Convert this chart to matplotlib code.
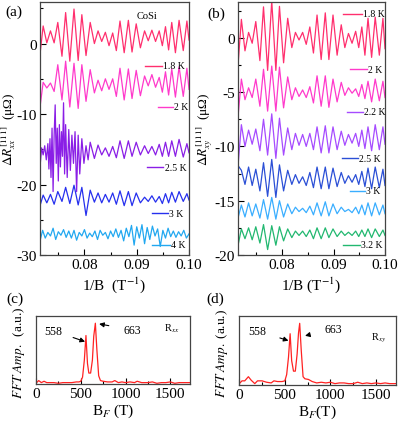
import matplotlib
matplotlib.use('Agg')
import matplotlib.pyplot as plt
from matplotlib.ticker import MultipleLocator

plt.rcParams['font.family'] = ['Liberation Serif', 'DejaVu Serif']
plt.rcParams['mathtext.fontset'] = 'stix'
plt.rcParams['axes.unicode_minus'] = False

# extrema positions in 1/B (T^-1), shared by the traces in (a) and (b)
inv_b = [0.0715, 0.0721, 0.0728, 0.0735, 0.0742, 0.0749, 0.0757, 0.0764, 0.0772, 0.0780,
         0.0788, 0.0795, 0.0803, 0.0811, 0.0819, 0.0826, 0.0833, 0.0840, 0.0847, 0.0854,
         0.0861, 0.0868, 0.0876, 0.0884, 0.0891, 0.0899, 0.0907, 0.0915, 0.0922, 0.0929,
         0.0936, 0.0943, 0.0949, 0.0955, 0.0961, 0.0967, 0.0974, 0.0981, 0.0989, 0.0996,
         0.1000]

# (a) delta R_xx, uOhm
rxx_18 = [-1.5, 2.5, 0.1, 1.8, 0.1, 3.0, -1.8, 4.4, -2.5, 4.9,
          -2.4, 4.1, -1.7, 3.0, 0.0, 1.8, 0.3, 1.6, -0.3, 1.5,
          -1.0, 3.2, -1.3, 3.3, -1.2, 2.8, -0.6, 1.8, 0.4, 1.9,
          0.3, 1.8, -0.3, 2.4, -0.9, 3.0, -1.3, 3.3, -1.0, 3.2, 0.5]
rxx_20 = [-9.0, -5.5, -6.3, -5.6, -6.8, -3.0, -8.0, -2.5, -9.0, -2.8,
          -9.2, -3.0, -8.2, -3.7, -7.0, -5.2, -6.7, -5.0, -6.5, -5.0,
          -7.5, -3.5, -8.0, -3.6, -7.8, -3.8, -7.4, -4.6, -6.0, -4.4,
          -6.2, -4.8, -6.9, -4.0, -7.3, -3.6, -7.6, -3.3, -7.5, -3.5, -6.5]
rxx_30 = [-23.0, -21.5, -22.6, -21.4, -22.8, -21.0, -22.4, -20.4, -22.7, -20.1,
          -22.9, -20.4, -24.4, -20.8, -22.5, -21.2, -22.6, -21.4, -22.5, -21.2,
          -22.8, -20.9, -23.0, -21.0, -23.0, -21.2, -22.6, -21.8, -22.4, -21.6,
          -22.5, -21.7, -22.7, -21.3, -22.6, -21.1, -22.5, -21.0, -22.4, -21.3, -22.2]

# 2.5 K trace is spiky at high field, so it has its own x points
inv_b_25 = [0.0715, 0.0718, 0.0721, 0.0724, 0.0727, 0.0730, 0.0732, 0.0734, 0.0736, 0.0738,
            0.0740, 0.0742, 0.0744, 0.0746, 0.0748, 0.0750, 0.0752, 0.0754, 0.0756, 0.0758,
            0.0760, 0.0762, 0.0764, 0.0767, 0.0770, 0.0773, 0.0776, 0.0779, 0.0782, 0.0785,
            0.0788, 0.0791, 0.0795, 0.0799, 0.0803, 0.0807, 0.0811, 0.0819, 0.0826, 0.0833,
            0.0840, 0.0847, 0.0854, 0.0861, 0.0868, 0.0876, 0.0884, 0.0891, 0.0899, 0.0907,
            0.0915, 0.0922, 0.0929, 0.0936, 0.0943, 0.0949, 0.0955, 0.0961, 0.0967, 0.0974,
            0.0981, 0.0989, 0.0996, 0.1000]
rxx_25 = [-17.5, -14.8, -15.8, -14.5, -16.5, -14.2, -17.8, -13.5, -19.0, -12.0,
          -21.0, -13.0, -8.7, -17.0, -12.0, -19.5, -11.5, -17.5, -12.5, -16.0,
          -8.4, -18.5, -11.5, -19.0, -12.2, -18.0, -13.0, -17.0, -12.5, -21.0,
          -13.0, -18.5, -13.5, -17.0, -14.5, -16.5, -14.0, -16.3, -14.4, -15.8,
          -14.8, -16.0, -14.6, -16.2, -13.8, -16.3, -13.8, -16.0, -14.0, -15.8,
          -14.5, -15.6, -14.6, -15.8, -14.3, -16.0, -14.0, -16.0, -13.8, -16.0,
          -13.6, -16.1, -14.2, -15.5]

# 4 K trace is mostly noise
inv_b_40 = [0.0715, 0.0720, 0.0725, 0.0730, 0.0735, 0.0740, 0.0745, 0.0750, 0.0755, 0.0760,
            0.0765, 0.0770, 0.0775, 0.0780, 0.0785, 0.0790, 0.0795, 0.0800, 0.0805, 0.0810,
            0.0815, 0.0820, 0.0825, 0.0830, 0.0835, 0.0840, 0.0845, 0.0850, 0.0855, 0.0860,
            0.0865, 0.0870, 0.0875, 0.0880, 0.0885, 0.0890, 0.0895, 0.0900, 0.0905, 0.0910,
            0.0915, 0.0920, 0.0925, 0.0930, 0.0935, 0.0940, 0.0945, 0.0950, 0.0955, 0.0960,
            0.0965, 0.0970, 0.0975, 0.0980, 0.0985, 0.0990, 0.0995, 0.1000]
rxx_40 = [-28.0, -26.5, -27.6, -26.8, -27.3, -26.2, -27.8, -26.7, -27.2, -26.4,
          -27.5, -26.6, -27.6, -26.5, -27.9, -26.8, -27.3, -26.4, -27.6, -26.9,
          -27.4, -26.6, -27.8, -26.5, -27.2, -26.8, -27.7, -26.6, -27.4, -26.3,
          -27.5, -26.5, -28.0, -26.2, -27.4, -25.8, -28.6, -26.0, -27.6, -25.7,
          -28.4, -26.1, -27.8, -25.9, -27.3, -26.3, -28.8, -26.5, -27.6, -26.2,
          -27.4, -26.6, -27.5, -26.7, -27.3, -26.5, -27.6, -27.0]

# (b) delta R_xy, uOhm
rxy_18 = [-2.2, 1.7, -1.2, 0.5, -0.5, 1.5, -2.1, 2.85, -3.0, 3.4,
          -3.0, 2.9, -2.3, 1.8, -0.9, 0.5, -0.2, 0.5, -0.6, 1.0,
          -1.4, 2.1, -2.0, 2.3, -2.0, 2.1, -1.6, 1.2, -0.9, 0.4,
          -0.5, 0.6, -0.9, 1.0, -1.6, 1.8, -1.8, 1.9, -1.6, 1.8, -1.0]
rxy_20 = [-7.0, -3.8, -5.7, -4.6, -5.5, -3.8, -6.3, -2.9, -6.75, -2.6,
          -6.75, -2.7, -6.45, -3.6, -5.7, -4.6, -5.4, -4.8, -5.5, -4.5,
          -6.0, -3.5, -6.3, -3.5, -6.4, -3.8, -5.9, -4.1, -5.3, -4.6,
          -5.1, -4.7, -5.4, -4.3, -5.6, -4.0, -5.9, -3.8, -5.8, -4.0, -5.5]
rxy_22 = [-11.5, -8.0, -10.0, -8.5, -9.8, -8.4, -10.4, -7.5, -10.8, -7.0,
          -11.1, -7.4, -10.8, -8.3, -10.3, -8.8, -9.9, -8.9, -10.0, -8.8,
          -10.3, -8.2, -10.6, -8.1, -10.6, -8.2, -10.3, -8.6, -9.9, -8.9,
          -9.7, -8.8, -10.0, -8.5, -10.2, -8.2, -10.4, -8.0, -10.3, -8.2, -9.8]
rxy_25 = [-11.8, -12.2, -13.5, -11.9, -13.6, -12.1, -14.1, -11.5, -14.6, -11.2,
          -14.7, -11.7, -14.1, -12.2, -13.5, -12.6, -13.4, -12.8, -13.6, -12.4,
          -13.8, -11.9, -13.9, -11.9, -13.9, -12.0, -13.7, -12.4, -13.4, -12.7,
          -13.3, -12.6, -13.5, -12.3, -13.7, -12.0, -13.9, -11.9, -13.8, -12.1, -13.6]
rxy_30 = [-16.5, -15.4, -16.5, -15.2, -16.4, -15.3, -16.6, -14.9, -16.7, -14.7,
          -16.7, -15.0, -16.5, -15.3, -16.2, -15.6, -16.0, -15.7, -16.1, -15.5,
          -16.3, -15.2, -16.4, -15.1, -16.4, -15.3, -16.2, -15.6, -16.0, -15.8,
          -16.1, -15.6, -16.2, -15.4, -16.3, -15.2, -16.4, -15.2, -16.3, -15.4, -16.2]
rxy_32 = [-19.0, -17.6, -18.5, -17.5, -18.6, -17.4, -18.9, -17.2, -19.5, -17.3,
          -19.1, -17.4, -18.7, -17.6, -18.4, -17.8, -18.2, -17.8, -18.3, -17.7,
          -18.5, -17.5, -18.5, -17.5, -18.4, -17.6, -18.3, -17.8, -18.2, -17.9,
          -18.2, -17.8, -18.3, -17.7, -18.3, -17.6, -18.4, -17.6, -18.3, -17.7, -18.2]

# FFT spectra, frequency in T, amplitude normalised
bf_xx = [0, 30, 60, 90, 120, 150, 200, 250, 300, 350, 400, 450, 480, 500, 520, 540,
         558, 575, 590, 610, 630, 645, 663, 680, 700, 720, 750, 800, 850, 880, 920,
         960, 1000, 1050, 1100, 1130, 1180, 1250, 1300, 1350, 1400, 1450, 1500, 1550,
         1600, 1650, 1720]
amp_xx = [0.01, 0.05, 0.02, 0.04, 0.02, 0.02, 0.02, 0.01, 0.02, 0.02, 0.02, 0.03, 0.03,
          0.04, 0.10, 0.35, 0.71, 0.30, 0.16, 0.16, 0.35, 0.70, 0.89, 0.50, 0.12, 0.05,
          0.04, 0.03, 0.03, 0.05, 0.02, 0.03, 0.02, 0.03, 0.02, 0.04, 0.02, 0.02, 0.03,
          0.01, 0.02, 0.02, 0.03, 0.01, 0.02, 0.02, 0.02]
bf_xy = [0, 30, 60, 100, 130, 170, 200, 250, 300, 350, 380, 420, 470, 500, 520, 540,
         558, 575, 595, 615, 635, 650, 663, 680, 700, 720, 760, 800, 850, 900, 950,
         1000, 1050, 1100, 1150, 1200, 1250, 1300, 1350, 1400, 1450, 1500, 1550, 1600,
         1650, 1720]
amp_xy = [0.02, 0.06, 0.06, 0.12, 0.07, 0.02, 0.06, 0.06, 0.04, 0.03, 0.06, 0.05, 0.05,
          0.06, 0.15, 0.40, 0.74, 0.35, 0.20, 0.20, 0.45, 0.75, 0.89, 0.50, 0.12, 0.09,
          0.08, 0.05, 0.03, 0.04, 0.03, 0.04, 0.02, 0.03, 0.03, 0.02, 0.02, 0.04, 0.02,
          0.03, 0.02, 0.03, 0.02, 0.03, 0.02, 0.02]

c18 = '#ff2f6e'
c20 = '#ff3acb'
c22 = '#a64bff'
c25a = '#8a1ee6'
c25b = '#2b4fd6'
c30a = '#2630ee'
c30b = '#3aaeff'
c40 = '#22a8f0'
c32 = '#22b870'
red = '#ff2222'

fig = plt.figure(figsize=(3.99, 4.27), dpi=100)


def style(ax):
    ax.tick_params(which='both', direction='in', labelsize=11, width=0.8, pad=2.5)
    ax.tick_params(which='major', length=4)
    ax.tick_params(which='minor', length=2.5)
    for s in ax.spines.values():
        s.set_linewidth(0.9)
        s.set_color('#444444')


def tag(ax, x0, x1, y, text, color):
    ax.plot([x0, x1], [y, y], color=color, lw=1, transform=ax.transAxes, clip_on=False)
    ax.text(x1 + 0.008, y, text, transform=ax.transAxes, fontsize=7,
            va='center', ha='left')


# ---- (a)
ax1 = fig.add_axes([0.1003, 0.4005, 0.3734, 0.5925])
ax1.plot(inv_b, rxx_18, color=c18, lw=0.9)
ax1.plot(inv_b, rxx_20, color=c20, lw=0.9)
ax1.plot(inv_b_25, rxx_25, color=c25a, lw=0.9)
ax1.plot(inv_b, rxx_30, color=c30a, lw=0.9)
ax1.plot(inv_b_40, rxx_40, color=c40, lw=0.9)
ax1.set_xlim(0.0715, 0.1)
ax1.set_ylim(-30, 5.9)
ax1.xaxis.set_minor_locator(MultipleLocator(0.005))
ax1.yaxis.set_major_locator(MultipleLocator(10))
ax1.yaxis.set_minor_locator(MultipleLocator(5))
ax1.set_xticks([0.08, 0.09, 0.10])
ax1.set_xticklabels(['0.08', '0.09', '0.10'])
style(ax1)
ax1.set_xlabel(r'1/B  (T$^{-1}$)', fontsize=11, labelpad=2)
ax1.set_ylabel(r'$\Delta R^{[111]}_{xx}$  (μΩ)', fontsize=9.5)
ax1.yaxis.set_label_coords(-0.148, 0.5)
ax1.text(0.718, 0.945, 'CoSi', transform=ax1.transAxes, fontsize=7.5, ha='center', va='center')
tag(ax1, 0.705, 0.819, 0.747, '1.8 K', c18)
tag(ax1, 0.790, 0.890, 0.586, '2 K', c20)
tag(ax1, 0.716, 0.828, 0.347, '2.5 K', c25a)
tag(ax1, 0.750, 0.861, 0.165, '3 K', c30a)
tag(ax1, 0.750, 0.872, 0.040, '4 K', c40)

# ---- (b)
ax2 = fig.add_axes([0.5972, 0.4005, 0.3677, 0.5925])
ax2.plot(inv_b, rxy_18, color=c18, lw=0.9)
ax2.plot(inv_b, rxy_20, color=c20, lw=0.9)
ax2.plot(inv_b, rxy_22, color=c22, lw=0.9)
ax2.plot(inv_b, rxy_25, color=c25b, lw=0.9)
ax2.plot(inv_b, rxy_30, color=c30b, lw=0.9)
ax2.plot(inv_b, rxy_32, color=c32, lw=0.9)
ax2.set_xlim(0.0715, 0.1)
ax2.set_ylim(-20, 3.3)
ax2.xaxis.set_minor_locator(MultipleLocator(0.005))
ax2.yaxis.set_major_locator(MultipleLocator(5))
ax2.yaxis.set_minor_locator(MultipleLocator(2.5))
ax2.set_xticks([0.08, 0.09, 0.10])
ax2.set_xticklabels(['0.08', '0.09', '0.10'])
style(ax2)
ax2.set_xlabel(r'1/B (T$^{-1}$)', fontsize=11, labelpad=2)
ax2.set_ylabel(r'$\Delta R^{[111]}_{xy}$  (μΩ)', fontsize=9.5)
ax2.yaxis.set_label_coords(-0.16, 0.5)
tag(ax2, 0.716, 0.841, 0.953, '1.8 K', c18)
tag(ax2, 0.761, 0.875, 0.735, '2 K', c20)
tag(ax2, 0.739, 0.852, 0.566, '2.2 K', c22)
tag(ax2, 0.705, 0.818, 0.382, '2.5 K', c25b)
tag(ax2, 0.761, 0.864, 0.254, '3 K', c30b)
tag(ax2, 0.716, 0.830, 0.041, '3.2 K', c32)

# ---- (c)
ax3 = fig.add_axes([0.0902, 0.0984, 0.386, 0.1599])
ax3.plot(bf_xx, amp_xx, color=red, lw=0.9)
ax3.set_xlim(0, 1720)
ax3.set_ylim(0, 1.0)
ax3.xaxis.set_major_locator(MultipleLocator(500))
ax3.xaxis.set_minor_locator(MultipleLocator(250))
ax3.set_yticks([])
style(ax3)
ax3.set_xlabel(r'B$_{F}$ (T)', fontsize=11, labelpad=1)
ax3.set_ylabel(r'$FFT\ Amp.$  (a.u.)', fontsize=9.5)
ax3.yaxis.set_label_coords(-0.06, 0.47)
ax3.annotate('558', xy=(548, 0.62), xytext=(195, 0.78), fontsize=8.5,
             ha='center', va='center',
             arrowprops=dict(arrowstyle='-|>', color='black', lw=0.8, mutation_scale=7,
                             shrinkA=6, shrinkB=0))
ax3.annotate('663', xy=(705, 0.88), xytext=(1080, 0.79), fontsize=8.5,
             ha='center', va='center',
             arrowprops=dict(arrowstyle='-|>', color='black', lw=0.8, mutation_scale=7,
                             shrinkA=9, shrinkB=0))
ax3.text(1520, 0.82, r'R$_{xx}$', fontsize=7.5, ha='center', va='center')

# ---- (d)
ax4 = fig.add_axes([0.5997, 0.096, 0.3928, 0.1623])
ax4.plot(bf_xy, amp_xy, color=red, lw=0.9)
ax4.set_xlim(0, 1720)
ax4.set_ylim(0, 1.0)
ax4.xaxis.set_major_locator(MultipleLocator(500))
ax4.xaxis.set_minor_locator(MultipleLocator(250))
ax4.set_yticks([])
style(ax4)
ax4.set_xlabel(r'B$_{F}$(T)', fontsize=11, labelpad=1)
ax4.set_ylabel(r'$FFT\ Amp.$ (a.u.)', fontsize=9.5)
ax4.yaxis.set_label_coords(-0.06, 0.47)
ax4.annotate('558', xy=(540, 0.64), xytext=(200, 0.78), fontsize=8.5,
             ha='center', va='center',
             arrowprops=dict(arrowstyle='-|>', color='black', lw=0.8, mutation_scale=7,
                             shrinkA=8, shrinkB=0))
ax4.annotate('663', xy=(722, 0.71), xytext=(1030, 0.81), fontsize=8.5,
             ha='center', va='center',
             arrowprops=dict(arrowstyle='-|>', color='black', lw=0.8, mutation_scale=7,
                             shrinkA=9, shrinkB=0))
ax4.text(1530, 0.69, r'R$_{xy}$', fontsize=7.5, ha='center', va='center')

# panel letters
fig.text(0.035, 0.972, '(a)', fontsize=11, ha='center', va='center')
fig.text(0.541, 0.967, '(b)', fontsize=11, ha='center', va='center')
fig.text(0.037, 0.299, '(c)', fontsize=11, ha='center', va='center')
fig.text(0.539, 0.299, '(d)', fontsize=11, ha='center', va='center')

fig.savefig('out.png', dpi=100)
